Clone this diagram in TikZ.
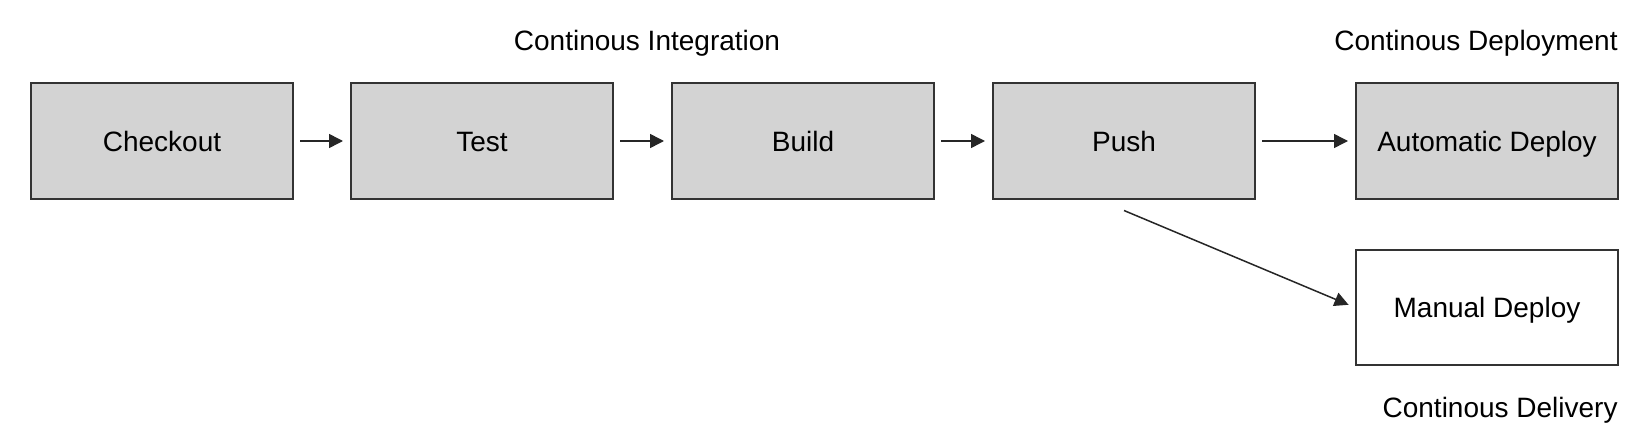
\documentclass[tikz,border=0pt]{standalone}
\usepackage{fontspec}
\setmainfont{Liberation Sans}
\usetikzlibrary{
	arrows.meta,
	positioning
}
\definecolor{BoxGray}{RGB}{211,211,211}
\definecolor{EdgeGray}{RGB}{51,51,51}

\tikzset{
	stage/.style={draw=EdgeGray, line width=1pt, fill=BoxGray, minimum width=131pt, minimum height=57.5pt, inner sep=0pt, text height=10pt, text depth=0pt, font=\fontsize{14}{16}\selectfont},
	manualstage/.style={stage, fill=white},
	flow/.style={-{Triangle[length=7pt,width=7pt]}, line width=0.75pt, draw=black!85},
	phase/.style={inner sep=0pt, font=\fontsize{14}{16}\selectfont}
}

\begin{document}
\begin{tikzpicture}[x=0.5pt, y=-0.5pt]
	\useasboundingbox (0,0) rectangle (1649,444);
	
	% 持续集成各阶段
	\node[stage] (checkout) at (162,141) {Checkout};
	\node[stage] (test) at (482,141) {Test};
	\node[stage] (build) at (803,141) {Build};
	\node[stage] (push) at (1124,141) {Push};
	
	% 部署
	\node[stage] (autodeploy) at (1487,141) {Automatic Deploy};
	\node[manualstage] (manualdeploy) at (1487,307.5) {Manual Deploy};
	
	% 标题
	\node[phase, anchor=base] (ci) at (647,51) {Continous Integration};
	\node[phase, anchor=base east] (cdeploy) at (1618,51) {Continous Deployment};
	\node[phase, anchor=base east] (cdelivery) at (1618,417) {Continous Delivery};
	
	% 箭头
	\draw[flow, shorten <=3pt, shorten >=3.5pt] (checkout) -- (test);
	\draw[flow, shorten <=3pt, shorten >=3.5pt] (test) -- (build);
	\draw[flow, shorten <=3pt, shorten >=3.5pt] (build) -- (push);
	\draw[flow, shorten <=3pt, shorten >=3.5pt] (push) -- (autodeploy);
	\coordinate (pushfoot) at ([yshift=-5.5pt]push.south);
	\draw[flow, shorten >=3.5pt] (pushfoot) -- (manualdeploy.west);
\end{tikzpicture}
\end{document}
